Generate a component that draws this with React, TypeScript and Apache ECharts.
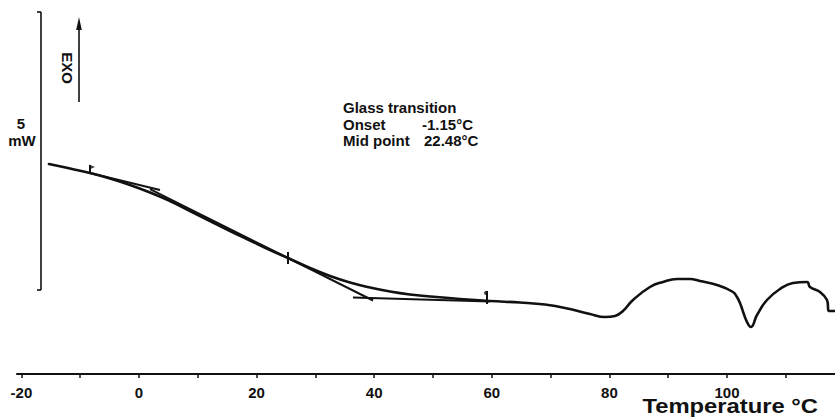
import React, { useEffect, useRef } from "react";
import * as echarts from "echarts";

// DSC curve: temperature (°C) vs heat flow (mW, relative offset)
const curveT = [-15.31, -11.73, -8.33, -4.93, -1.53, 1.87, 5.27, 8.67, 12.07, 15.48, 18.88, 22.28, 25.34, 29.08, 32.48, 35.88, 39.29, 42.69, 46.09, 49.49, 54.59, 59.69, 64.8, 69.05, 73.3, 76.7, 79.25, 80.95, 82.31, 84.01, 86.9, 89.1, 91.5, 93.71, 95.41, 98.3, 101.02, 101.7, 102.21, 103.4, 104.08, 105.1, 106.8, 109.01, 111.22, 113.61, 114.12, 115.82, 117.01, 117.35, 118.37];
const curveMW = [3.777, 3.696, 3.615, 3.516, 3.399, 3.264, 3.112, 2.932, 2.752, 2.572, 2.401, 2.23, 2.086, 1.906, 1.763, 1.646, 1.556, 1.484, 1.43, 1.394, 1.349, 1.313, 1.286, 1.25, 1.169, 1.079, 1.025, 1.043, 1.133, 1.331, 1.565, 1.655, 1.709, 1.709, 1.673, 1.601, 1.475, 1.385, 1.277, 0.935, 0.845, 1.061, 1.331, 1.529, 1.637, 1.655, 1.565, 1.475, 1.331, 1.133, 1.133];

// Tangent construction lines [T, mW]
const tangentStart = [[-8.33, 3.615], [3.57, 3.309]];
const tangentSlope = [[1.87, 3.327], [39.8, 1.322]];
const tangentEnd = [[36.39, 1.376], [59.69, 1.304]];

// Limit / midpoint markers [T, mWlow, mWhigh]
const markerT = [-8.33, 25.34, 59.18];
const markerLow = [3.615, 1.978, 1.259];
const markerHigh = [3.759, 2.194, 1.493];

const labelTicks = [-20, 0, 20, 40, 60, 80, 100];
const minorTicks = [-20, -10, 0, 10, 20, 30, 40, 50, 60, 70, 80, 90, 100, 110];

const annotation = ["Glass transition", "Onset", "-1.15°C", "Mid point", "22.48°C"];

const FONT = "'Liberation Sans', Arial, Helvetica, sans-serif";
const INK = "#111";

export default function App() {
  const ref = useRef<HTMLDivElement>(null);
  useEffect(() => {
    if (!ref.current) return;
    const chart = echarts.init(ref.current, undefined, { renderer: "svg" });
    const curve = curveT.map((t, i) => [t, curveMW[i]]);
    const seg = (data: number[][], w = 2) => ({
      type: "line",
      data,
      symbol: "none",
      silent: true,
      lineStyle: { color: INK, width: w },
    });
    const markerSeries = markerT.map((t, i) =>
      seg([[t, markerLow[i]], [t, markerHigh[i]]], 2)
    );
    chart.setOption({
      animation: false,
      backgroundColor: "#fff",
      grid: { left: 17, right: 0, top: 12, bottom: 46 },
      xAxis: {
        type: "value",
        min: -20.75,
        max: 118.37,
        axisLine: { show: true, lineStyle: { color: INK, width: 2 } },
        axisTick: {
          show: true,
          length: 4,
          customValues: minorTicks,
          lineStyle: { color: INK, width: 1.5 },
        },
        axisLabel: {
          customValues: labelTicks,
          margin: 11,
          color: INK,
          fontFamily: FONT,
          fontWeight: "bold",
          fontSize: 15,
        },
        splitLine: { show: false },
      },
      yAxis: {
        type: "value",
        min: 0,
        max: 6.511,
        show: false,
      },
      series: [
        {
          type: "line",
          data: curve,
          symbol: "none",
          smooth: 0.45,
          lineStyle: { color: INK, width: 2.6, join: "round", cap: "round" },
        },
        seg(tangentStart, 2),
        seg(tangentSlope, 2),
        seg(tangentEnd, 2),
        ...markerSeries,
        {
          type: "scatter",
          data: [[markerT[0], markerHigh[0]]],
          symbol: "triangle",
          symbolSize: [5, 6],
          symbolRotate: -90,
          symbolOffset: [2, 2],
          itemStyle: { color: INK },
        },
        {
          type: "scatter",
          data: [[markerT[2], markerHigh[2]]],
          symbol: "circle",
          symbolSize: 4,
          symbolOffset: [-1, 2],
          itemStyle: { color: INK },
        },
      ],
      graphic: [
        // 5 mW scale bracket
        { type: "line", shape: { x1: 41, y1: 12, x2: 41, y2: 290 }, style: { stroke: INK, lineWidth: 1.6 } },
        { type: "line", shape: { x1: 37, y1: 12, x2: 41, y2: 12 }, style: { stroke: INK, lineWidth: 1.6 } },
        { type: "line", shape: { x1: 37, y1: 290, x2: 41, y2: 290 }, style: { stroke: INK, lineWidth: 1.6 } },
        { type: "text", x: 21, y: 123, style: { text: "5", font: `bold 15px ${FONT}`, fill: INK, align: "center", verticalAlign: "middle" } },
        { type: "text", x: 22, y: 140, style: { text: "mW", font: `bold 15px ${FONT}`, fill: INK, align: "center", verticalAlign: "middle" } },
        // EXO arrow
        { type: "line", shape: { x1: 79, y1: 102, x2: 79, y2: 26 }, style: { stroke: INK, lineWidth: 1.6 } },
        { type: "polygon", shape: { points: [[79, 17], [76.2, 30], [81.8, 30]] }, style: { fill: INK } },
        { type: "text", x: 67, y: 68, rotation: -Math.PI / 2, style: { text: "EXO", font: `bold 15px ${FONT}`, fill: INK, align: "center", verticalAlign: "middle" } },
        // Annotation
        { type: "text", x: 343, y: 107, style: { text: annotation[0], font: `bold 15px ${FONT}`, fill: INK, align: "left", verticalAlign: "middle" } },
        { type: "text", x: 343, y: 124, style: { text: annotation[1], font: `bold 15px ${FONT}`, fill: INK, align: "left", verticalAlign: "middle" } },
        { type: "text", x: 422, y: 124, style: { text: annotation[2], font: `bold 15px ${FONT}`, fill: INK, align: "left", verticalAlign: "middle" } },
        { type: "text", x: 343, y: 140, style: { text: annotation[3], font: `bold 15px ${FONT}`, fill: INK, align: "left", verticalAlign: "middle" } },
        { type: "text", x: 424, y: 140, style: { text: annotation[4], font: `bold 15px ${FONT}`, fill: INK, align: "left", verticalAlign: "middle" } },
        // Axis title
        { type: "text", x: 818, y: 406, scaleX: 1.19, style: { text: "Temperature °C", font: `bold 20px ${FONT}`, fill: INK, align: "right", verticalAlign: "middle" } },
      ],
    });
    return () => chart.dispose();
  }, []);
  return (
    <div
      ref={ref}
      style={{ position: "fixed", left: 0, top: 0, width: 835, height: 420, background: "#fff" }}
    />
  );
}
